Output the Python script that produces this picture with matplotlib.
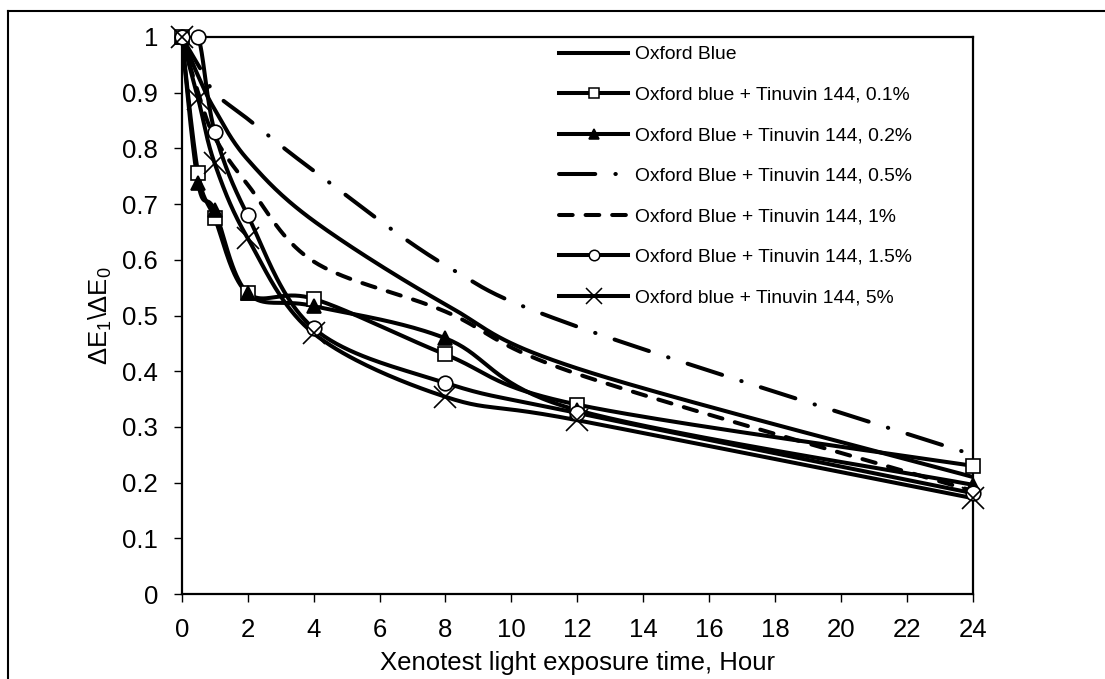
import numpy as np
import matplotlib
matplotlib.use("Agg")
import matplotlib.pyplot as plt
from matplotlib.lines import Line2D

plt.rcParams['font.family'] = ['Liberation Sans', 'DejaVu Sans']
plt.rcParams['mathtext.fontset'] = 'custom'
plt.rcParams['mathtext.rm'] = 'Liberation Sans'
plt.rcParams['mathtext.it'] = 'Liberation Sans:italic'

# exposure time, hours
hours = [0, 0.5, 1, 2, 4, 8, 12, 24]

# dE1/dE0
oxford_blue = [1.0, 0.93, 0.87, 0.78, 0.67, 0.52, 0.405, 0.21]
tin_01 = [1.0, 0.755, 0.675, 0.54, 0.53, 0.43, 0.34, 0.23]
tin_02 = [1.0, 0.737, 0.689, 0.54, 0.517, 0.459, 0.33, 0.196]
tin_05 = [1.0, 0.95, 0.90, 0.853, 0.76, 0.59, 0.48, 0.25]
tin_1 = [1.0, 0.90, 0.82, 0.735, 0.597, 0.507, 0.395, 0.185]
tin_15 = [1.0, 1.0, 0.83, 0.68, 0.477, 0.379, 0.325, 0.181]
tin_5 = [1.0, 0.889, 0.773, 0.639, 0.468, 0.354, 0.312, 0.172]

labels = ['Oxford Blue',
          'Oxford blue + Tinuvin 144, 0.1%',
          'Oxford Blue + Tinuvin 144, 0.2%',
          'Oxford Blue + Tinuvin 144, 0.5%',
          'Oxford Blue + Tinuvin 144, 1%',
          'Oxford Blue + Tinuvin 144, 1.5%',
          'Oxford blue + Tinuvin 144, 5%']

x_ticks = list(range(0, 25, 2))
y_ticks = [0, 0.1, 0.2, 0.3, 0.4, 0.5, 0.6, 0.7, 0.8, 0.9, 1]


def smooth(xs, ys, n=40):
    # excel style smoothed line: bezier segments, catmull-rom control points
    p = np.column_stack([xs, ys]).astype(float)
    out = []
    for i in range(len(p) - 1):
        p0 = p[max(i - 1, 0)]
        p1 = p[i]
        p2 = p[i + 1]
        p3 = p[min(i + 2, len(p) - 1)]
        c1 = p1 + (p2 - p0) / 6
        c2 = p2 - (p3 - p1) / 6
        t = np.linspace(0, 1, n)[:, None]
        seg = (1 - t)**3 * p1 + 3 * (1 - t)**2 * t * c1 + 3 * (1 - t) * t**2 * c2 + t**3 * p2
        out.append(seg if i == 0 else seg[1:])
    s = np.vstack(out)
    return s[:, 0], s[:, 1]


fig = plt.figure(figsize=(11.05, 6.79), dpi=100)
ax = fig.add_axes([181.7 / 1105, 85 / 679, (973 - 181.7) / 1105, (594 - 37) / 679])

lw = 2.9
dashdot = (0, (9, 5, 0.1, 5))
dashed = (0, (3.4, 3.2))
series = [
    (oxford_blue, '-', None, 0, 'k'),
    (tin_01, '-', 's', 10.5, 'white'),
    (tin_02, '-', '^', 10.5, 'k'),
    (tin_05, dashdot, None, 0, 'k'),
    (tin_1, dashed, None, 0, 'k'),
    (tin_15, '-', 'o', 10.5, 'white'),
    (tin_5, '-', 'x', 16, 'k'),
]

handles = []
for (vals, ls, mk, ms, fc), lab in zip(series, labels):
    sx, sy = smooth(hours, vals)
    ax.plot(sx, sy, color='k', lw=lw, ls=ls, dash_capstyle='round', solid_capstyle='butt')
    if mk is not None:
        ax.plot(hours, vals, ls='none', marker=mk, ms=ms, mfc=fc, mec='k',
                mew=1.2, clip_on=False, zorder=5)
    handles.append(Line2D([], [], color='k', lw=lw, ls=ls, dash_capstyle='round',
                          marker=mk, ms=ms * 0.72, mfc=fc, mec='k', mew=1.1))

ax.set_xlim(0, 24)
ax.set_ylim(0, 1)
ax.set_xticks(x_ticks)
ax.set_yticks(y_ticks)
ax.set_yticklabels([('%g' % v) for v in y_ticks])
ax.tick_params(direction='out', length=6, width=1, labelsize=18.5, color='k')
ax.tick_params(axis='y', pad=11)
ax.tick_params(axis='x', pad=11)
for s in ax.spines.values():
    s.set_linewidth(1.6)

ax.set_xlabel('Xenotest light exposure time, Hour', fontsize=18.5, labelpad=7)
ax.set_ylabel('ΔE$_1$\\ΔE$_0$', fontsize=18.5, labelpad=6)

ax.legend(handles, labels, loc='upper left', bbox_to_anchor=(0.4768, 0.984),
          frameon=False, fontsize=13.9, handlelength=3.6, handletextpad=0.35,
          labelspacing=1.19, borderpad=0, borderaxespad=0)

# outer chart border (left and top edges visible)
fig.add_artist(Line2D([8 / 1105, 8 / 1105], [0, 1 - 11 / 679], color='k', lw=1.5))
fig.add_artist(Line2D([8 / 1105, 1], [1 - 11 / 679, 1 - 11 / 679], color='k', lw=1.5))

fig.savefig('out.png', dpi=100)
